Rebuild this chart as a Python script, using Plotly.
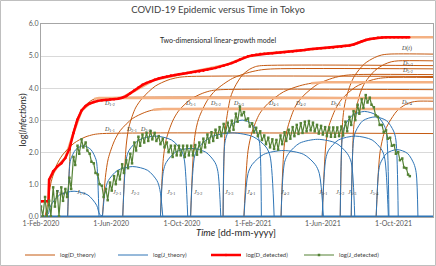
import pandas as pd
import plotly.graph_objects as go

BASE = pd.Timestamp("2020-02-01")
def to_dates(days):
    return [BASE + pd.to_timedelta(d, unit="D") for d in days]

# ---------------- data (days since 1-Feb-2020, log10 values) ----------------
# log(D_detected): cumulative detected infections
d_det_days = [0, 7, 13, 14, 21, 28, 35, 42, 49, 56, 63, 70, 77, 84, 91, 98, 105, 112, 119, 126,
              133, 140, 147, 154, 161, 168, 175, 182, 189, 196, 203, 210, 217, 224, 231, 238,
              245, 252, 259, 266, 273, 280, 287, 294, 301, 308, 315, 322, 329, 336, 343, 350,
              357, 364, 371, 378, 385, 392, 399, 406, 413, 420, 427, 434, 441, 448, 455, 462,
              469, 476, 483, 490, 497, 504, 511, 518, 525, 532, 539, 546, 553, 560, 567, 574,
              581, 588, 595, 602, 609, 616, 623, 630, 635]
d_det_vals = [0.47, 0.47, 0.47, 1.14, 1.40, 1.55, 1.65, 1.82, 2.10, 2.60, 3.02, 3.30, 3.44, 3.52,
              3.57, 3.60, 3.62, 3.63, 3.64, 3.65, 3.67, 3.70, 3.75, 3.84, 3.93, 4.02, 4.10, 4.16,
              4.21, 4.26, 4.30, 4.33, 4.36, 4.39, 4.41, 4.43, 4.45, 4.47, 4.49, 4.50, 4.52, 4.54,
              4.57, 4.60, 4.63, 4.66, 4.70, 4.74, 4.78, 4.83, 4.89, 4.95, 4.99, 5.02, 5.04, 5.06,
              5.07, 5.08, 5.09, 5.10, 5.11, 5.12, 5.13, 5.14, 5.16, 5.18, 5.19, 5.21, 5.22, 5.23,
              5.24, 5.25, 5.26, 5.27, 5.28, 5.29, 5.31, 5.33, 5.36, 5.41, 5.46, 5.50, 5.53, 5.55,
              5.57, 5.58, 5.585, 5.59, 5.59, 5.59, 5.59, 5.59, 5.59]

# log(J_detected): daily detected infections, weekly high (day 7k) and low (day 7k+3)
j_hi = [0.30, 0.60, 0.48, 0.90, 0.78, 0.90, 0.85, 1.20, 1.85, 2.20, 2.40, 2.30, 1.95, 1.65, 1.30,
        0.95, 0.85, 1.05, 1.25, 1.40, 1.62, 1.75, 1.95, 2.30, 2.48, 2.55, 2.60, 2.66, 2.60, 2.50,
        2.42, 2.30, 2.20, 2.20, 2.20, 2.20, 2.20, 2.20, 2.22, 2.30, 2.42, 2.55, 2.62, 2.70, 2.78,
        2.88, 2.92, 2.98, 3.20, 3.42, 3.25, 3.05, 2.90, 2.76, 2.65, 2.52, 2.45, 2.40, 2.38, 2.52,
        2.62, 2.70, 2.78, 2.85, 2.90, 2.95, 2.97, 2.92, 2.85, 2.82, 2.78, 2.77, 2.77, 2.77, 2.80,
        2.95, 3.10, 3.28, 3.48, 3.65, 3.78, 3.70, 3.40, 3.10, 2.85, 2.68, 2.45, 2.22, 2.00, 1.80,
        1.50]
j_lo = [0.00, 0.00, 0.00, 0.30, 0.00, 0.48, 0.60, 0.85, 1.60, 1.95, 2.15, 2.05, 1.70, 1.35, 1.00,
        0.60, 0.50, 0.80, 1.00, 1.15, 1.35, 1.50, 1.65, 2.05, 2.20, 2.30, 2.35, 2.40, 2.35, 2.25,
        2.15, 2.00, 1.85, 1.90, 1.90, 1.85, 1.90, 1.90, 1.92, 2.00, 2.15, 2.30, 2.35, 2.45, 2.50,
        2.60, 2.65, 2.70, 2.95, 3.15, 3.00, 2.80, 2.62, 2.50, 2.38, 2.25, 2.15, 2.10, 2.08, 2.25,
        2.35, 2.42, 2.50, 2.57, 2.60, 2.65, 2.68, 2.65, 2.58, 2.55, 2.50, 2.48, 2.48, 2.50, 2.52,
        2.65, 2.85, 3.00, 3.20, 3.38, 3.55, 3.48, 3.15, 2.85, 2.62, 2.42, 2.20, 1.95, 1.75, 1.52,
        1.30]
j_last_day, j_last_val = 636, 1.25

# log(J_theory) sub-waves
J_names = ["1-1", "1-2", "2-1", "2-2", "3-1", "3-2", "3-3", "4-1", "4-2", "5-1", "5-2", "5-3", "5-4"]
J_days = [
    [7, 12, 17, 32, 57, 81, 96, 101, 106],
    [46, 49, 51, 60, 73, 86, 95, 97, 100],
    [106, 111, 116, 132, 158, 184, 200, 205, 210],
    [141, 147, 152, 169, 197, 225, 242, 247, 253],
    [206, 211, 216, 232, 258, 284, 300, 305, 310],
    [258, 265, 272, 294, 330, 366, 388, 395, 402],
    [314, 317, 321, 330, 347, 364, 373, 377, 380],
    [350, 357, 364, 384, 418, 453, 473, 480, 487],
    [414, 420, 427, 446, 477, 509, 528, 535, 541],
    [485, 491, 496, 513, 542, 571, 588, 593, 599],
    [516, 520, 524, 537, 558, 579, 592, 596, 600],
    [535, 539, 543, 555, 576, 596, 608, 612, 616],
    [578, 582, 585, 596, 614, 632, 643, 647, 650],
]
J_vals = [
    [0, 0.06, 0.34, 0.66, 0.78, 0.66, 0.34, 0.06, 0],
    [0, 1.48, 1.76, 2.08, 2.20, 2.08, 1.76, 1.48, 0],
    [0, 0.83, 1.11, 1.43, 1.55, 1.43, 1.11, 0.83, 0],
    [0, 1.78, 2.06, 2.38, 2.50, 2.38, 2.06, 1.78, 0],
    [0, 1.40, 1.68, 2.00, 2.12, 2.00, 1.68, 1.40, 0],
    [0, 1.88, 2.16, 2.48, 2.60, 2.48, 2.16, 1.88, 0],
    [0, 2.28, 2.56, 2.88, 3.00, 2.88, 2.56, 2.28, 0],
    [0, 1.33, 1.61, 1.93, 2.05, 1.93, 1.61, 1.33, 0],
    [0, 1.68, 1.96, 2.28, 2.40, 2.28, 1.96, 1.68, 0],
    [0, 1.78, 2.06, 2.38, 2.50, 2.38, 2.06, 1.78, 0],
    [0, 2.55, 2.83, 3.15, 3.27, 3.15, 2.83, 2.55, 0],
    [0, 2.38, 2.66, 2.98, 3.10, 2.98, 2.66, 2.38, 0],
    [0, 1.36, 1.64, 1.96, 2.08, 1.96, 1.64, 1.36, 0],
]

# log(D_theory) sub-waves
D_days = [
    [7, 12, 17, 27, 37, 57, 76, 91, 106, 676],
    [46, 49, 51, 57, 62, 73, 84, 92, 100, 676],
    [106, 111, 116, 127, 137, 158, 179, 194, 210, 676],
    [141, 147, 152, 163, 175, 197, 219, 236, 253, 676],
    [206, 211, 216, 227, 237, 258, 279, 294, 310, 676],
    [258, 265, 272, 287, 301, 330, 359, 380, 402, 676],
    [314, 317, 321, 327, 334, 347, 360, 370, 380, 676],
    [350, 357, 364, 377, 391, 418, 446, 466, 487, 676],
    [414, 420, 427, 439, 452, 477, 503, 522, 541, 676],
    [485, 491, 496, 508, 519, 542, 565, 582, 599, 676],
    [516, 520, 524, 533, 541, 558, 575, 587, 600, 676],
    [535, 539, 543, 551, 559, 576, 592, 604, 616, 676],
    [578, 582, 585, 592, 600, 614, 628, 639, 650, 676],
]
D_vals = [
    [0, 0.44, 1.03, 1.60, 1.91, 2.28, 2.47, 2.55, 2.58, 2.58],
    [0, 1.55, 2.14, 2.71, 3.02, 3.39, 3.58, 3.66, 3.69, 3.69],
    [0, 1.21, 1.80, 2.37, 2.68, 3.05, 3.24, 3.32, 3.35, 3.35],
    [0, 2.22, 2.81, 3.38, 3.69, 4.06, 4.25, 4.33, 4.36, 4.36],
    [0, 1.81, 2.40, 2.97, 3.28, 3.65, 3.84, 3.92, 3.95, 3.95],
    [0, 2.46, 3.05, 3.62, 3.93, 4.30, 4.49, 4.57, 4.60, 4.60],
    [0, 2.56, 3.15, 3.72, 4.03, 4.40, 4.59, 4.67, 4.70, 4.70],
    [0, 2.04, 2.63, 3.20, 3.51, 3.88, 4.07, 4.15, 4.18, 4.18],
    [0, 2.28, 2.87, 3.44, 3.75, 4.12, 4.31, 4.39, 4.42, 4.42],
    [0, 2.19, 2.78, 3.35, 3.66, 4.03, 4.22, 4.30, 4.33, 4.33],
    [0, 2.92, 3.51, 4.08, 4.39, 4.76, 4.95, 5.03, 5.06, 5.06],
    [0, 2.71, 3.30, 3.87, 4.18, 4.55, 4.74, 4.82, 4.85, 4.85],
    [0, 1.45, 2.04, 2.61, 2.92, 3.29, 3.48, 3.56, 3.59, 3.59],
]
D_thick = ["1-2", "2-1", "4-1"]   # their saturated levels are drawn as lighter, wider lines

# D(t): total theory
dt_days = [0, 13, 14, 28, 42, 56, 70, 84, 98, 140, 196, 259, 322, 350, 378, 448, 497, 539, 560,
           581, 602, 640, 676]
dt_vals = [0.47, 0.47, 1.14, 1.55, 1.82, 2.60, 3.30, 3.52, 3.60, 3.70, 4.26, 4.49, 4.74, 4.95,
           5.06, 5.18, 5.26, 5.36, 5.50, 5.57, 5.59, 5.59, 5.59]

x_ticks = ["2020-02-01", "2020-06-01", "2020-10-01", "2021-02-01", "2021-06-01", "2021-10-01"]
x_tick_text = ["1-Feb-2020", "1-Jun-2020", "1-Oct-2020", "1-Feb-2021", "1-Jun-2021", "1-Oct-2021"]
y_ticks = [0, 1, 2, 3, 4, 5, 6]
x_end_day = 676

# ---------------- figure ----------------
C_D = "#C55A11"
C_DT = "#F4B183"
C_J = "#2E75B6"
C_RED = "#FF0000"
C_GRN = "#548235"
FONT = "Lato"

fig = go.Figure()

# baseline of J_theory (log J = 0 outside the waves)
fig.add_trace(go.Scatter(x=to_dates([0, x_end_day]), y=[0, 0], mode="lines",
                         line=dict(color=C_J, width=1.5), showlegend=False, hoverinfo="skip"))

# D(t)
fig.add_trace(go.Scatter(x=to_dates(dt_days), y=dt_vals, mode="lines",
                         line=dict(color=C_DT, width=2.5),
                         showlegend=False, hoverinfo="skip"))

for i, nm in enumerate(J_names):
    fig.add_trace(go.Scatter(
        x=to_dates(D_days[i]), y=D_vals[i], mode="lines",
        line=dict(color=C_D, width=1, shape="spline", smoothing=0.8),
        name="log(D_theory)", legendgroup="D", showlegend=(i == 0), legendrank=1))
for i, nm in enumerate(J_names):
    if nm in D_thick:
        fig.add_trace(go.Scatter(
            x=to_dates(D_days[i][7:]), y=D_vals[i][7:], mode="lines",
            line=dict(color=C_DT, width=2.5), showlegend=False, hoverinfo="skip"))

for i, nm in enumerate(J_names):
    fig.add_trace(go.Scatter(
        x=to_dates(J_days[i]), y=J_vals[i], mode="lines",
        line=dict(color=C_J, width=1, shape="spline", smoothing=0.8),
        name="log(J_theory)", legendgroup="J", showlegend=(i == 0), legendrank=2))

fig.add_trace(go.Scatter(
    x=to_dates(d_det_days), y=d_det_vals, mode="lines+markers",
    line=dict(color=C_RED, width=2.5), marker=dict(color=C_RED, size=2.5),
    name="log(D_detected)", legendrank=3))

j_days = []
j_vals = []
for k in range(len(j_hi)):
    j_days += [7 * k, 7 * k + 3]
    j_vals += [j_hi[k], j_lo[k]]
j_days.append(j_last_day)
j_vals.append(j_last_val)
fig.add_trace(go.Scatter(
    x=to_dates(j_days), y=j_vals, mode="lines+markers",
    line=dict(color=C_GRN, width=1.2), marker=dict(color=C_GRN, size=2.5, symbol="square"),
    name="log(J_detected)", legendrank=4))

# ---------------- labels ----------------
L, R, T, B = 41, 433, 24, 217
def px(xp, yp):
    return (xp - L) / (R - L), (B - yp) / (B - T)

lab_font = dict(family="Liberation Serif", size=6, color="#404040")
d_labels = [("D(t)", 413.5, 43), ("D<sub>5-3</sub>", 415, 57.7), ("D<sub>5-2</sub>", 415, 64.5),
            ("D<sub>5-4</sub>", 415, 102.5), ("D<sub>1-1</sub>", 102, 129.5),
            ("D<sub>1-2</sub>", 102, 103), ("D<sub>2-1</sub>", 124, 129.5),
            ("D<sub>2-2</sub>", 138, 129.5), ("D<sub>3-1</sub>", 190, 103.5),
            ("D<sub>3-2</sub>", 215, 103.5), ("D<sub>3-3</sub>", 238, 103.5),
            ("D<sub>4-1</sub>", 273, 103.5), ("D<sub>4-2</sub>", 300, 103.5),
            ("D<sub>5-1</sub>", 343, 103.5)]
j_label_x = [53.5, 75, 111, 129, 165, 197.5, 229, 251, 284.5, 329, 346, 357.5, 380.5]
anns = []
for t, xx, yy in d_labels:
    ax, ay = px(xx, yy)
    if t == "D(t)":
        txt = "<i>D</i>(<i>t</i>)"
    else:
        txt = "<i>D</i>" + t[1:]
    anns.append(dict(text=txt, x=ax, y=ay, xref="paper", yref="paper", showarrow=False, font=lab_font))
for nm, xx in zip(J_names, j_label_x):
    ax, ay = px(xx, 198.3)
    anns.append(dict(text="<i>J</i><sub>" + nm + "</sub>", x=ax, y=ay, xref="paper", yref="paper",
                     showarrow=False, font=lab_font))

ax, ay = px(218, 34)
anns.append(dict(text="Two-dimensional linear-growth model", x=ax, y=ay, xref="paper", yref="paper",
                 showarrow=False, font=dict(family=FONT, size=7, color="#262626")))
ax, ay = px(236, 240)
anns.append(dict(text="<i>Time</i> [dd-mm-yyyy]", x=ax, y=ay, xref="paper", yref="paper",
                 showarrow=False, font=dict(family=FONT, size=9.5, color="#262626")))
ax, ay = px(14, 120)
anns.append(dict(text="log(<i>Infections</i>)", x=ax, y=ay, xref="paper", yref="paper",
                 showarrow=False, textangle=-90, font=dict(family=FONT, size=9, color="#262626")))

shapes = [dict(type="rect", xref="paper", yref="paper",
               x0=(0.5 - L) / (R - L), x1=(435.5 - L) / (R - L),
               y0=(B - 265.5) / (B - T), y1=(B - 0.5) / (B - T),
               line=dict(color="#BFBFBF", width=1), layer="below")]

fig.update_layout(
    width=436, height=266,
    margin=dict(l=L, r=436 - R, t=T, b=266 - B, autoexpand=False),
    paper_bgcolor="white", plot_bgcolor="white",
    title=dict(text="COVID-19 Epidemic versus Time in Tokyo", x=0.5, xanchor="center",
               y=1 - 10 / 266, yanchor="middle", font=dict(family=FONT, size=9.5, color="#404040")),
    font=dict(family=FONT, color="#595959"),
    annotations=anns, shapes=shapes,
    legend=dict(orientation="h", x=(20 - L) / (R - L), xanchor="left", y=(B - 255) / (B - T),
                yanchor="middle", font=dict(family=FONT, size=6, color="#404040"),
                entrywidth=48, entrywidthmode="pixels", itemwidth=30, bgcolor="rgba(0,0,0,0)",
                traceorder="normal"),
    showlegend=True,
)
fig.update_xaxes(type="date", range=to_dates([0, x_end_day]),
                 tickvals=[pd.Timestamp(t) for t in x_ticks],
                 ticktext=x_tick_text, showgrid=False, showline=True, mirror=True,
                 linecolor="#A6A6A6", linewidth=1, ticks="", tickfont=dict(size=7, color="#595959"))
fig.update_yaxes(range=[-0.025, 6.0], tickvals=y_ticks, tickformat=".1f", showgrid=True,
                 gridcolor="#D9D9D9", gridwidth=1, showline=True, mirror=True, linecolor="#A6A6A6",
                 linewidth=1, ticks="", zeroline=False, tickfont=dict(size=7, color="#595959"))

fig.write_html("out.html", config={"displayModeBar": False, "staticPlot": True},
               post_script="document.body.style.margin='0px';document.body.style.overflow='hidden';")
